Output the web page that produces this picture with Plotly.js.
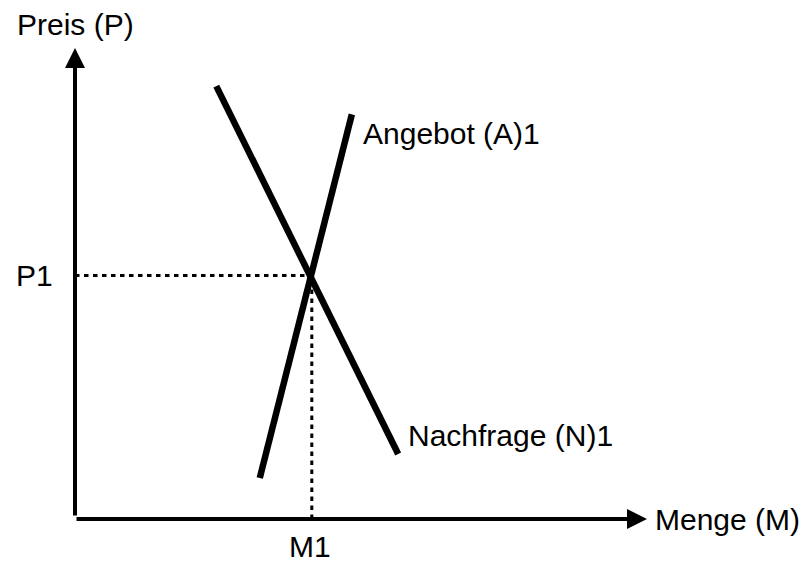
<!DOCTYPE html>
<html>
<head>
<meta charset="utf-8">
<script src="https://cdn.plot.ly/plotly-3.0.1.min.js"></script>
<style>html,body{margin:0;padding:0;background:#fff;}#chart{width:809px;height:562px;}</style>
</head>
<body>
<div id="chart"></div>
<script>
// Nachfrage (N)1: Menge / Preis
const mengeNachfrage = [2.47, 5.65];
const preisNachfrage = [9.19, 1.38];
// Angebot (A)1: Menge / Preis
const mengeAngebot = [3.23, 4.84];
const preisAngebot = [0.87, 8.59];
// Gleichgewicht
const M1 = 4.14;
const P1 = 5.17;
// Achsenenden
const mengeMax = 10;
const preisMax = 10;
// Beschriftungen
const labelX = 'Menge (M)';
const labelY = 'Preis (P)';
const labelAngebot = 'Angebot (A)1';
const labelNachfrage = 'Nachfrage (N)1';
const labelP1 = 'P1';
const labelM1 = 'M1';

const FONT = {family: '"Liberation Sans", Arial, sans-serif', size: 30, color: '#000'};

const traces = [
  {x: [0, M1], y: [P1, P1], mode: 'lines', line: {color: '#000', width: 3, dash: '4.5px,4.5px'}, hoverinfo: 'skip'},
  {x: [M1, M1], y: [0, P1], mode: 'lines', line: {color: '#000', width: 3, dash: '4.5px,4.5px'}, hoverinfo: 'skip'},
  {x: mengeNachfrage, y: preisNachfrage, mode: 'lines', line: {color: '#000', width: 6.5}, hoverinfo: 'skip'},
  {x: mengeAngebot, y: preisAngebot, mode: 'lines', line: {color: '#000', width: 6.5}, hoverinfo: 'skip'}
];

const arrowBase = {xref: 'x', yref: 'y', axref: 'x', ayref: 'y', text: '', showarrow: true,
  arrowhead: 2, arrowsize: 1, arrowwidth: 4, arrowcolor: '#000', standoff: 0, startstandoff: 0};

const annotations = [
  Object.assign({}, arrowBase, {x: mengeMax, y: 0, ax: 0, ay: 0}),
  Object.assign({}, arrowBase, {x: 0, y: preisMax, ax: 0, ay: 0.04}),
  {xref: 'x', yref: 'y', x: mengeMax, y: 0, text: labelX, showarrow: false, xanchor: 'left', yanchor: 'middle', xshift: 6, font: FONT},
  {xref: 'x', yref: 'y', x: 0, y: preisMax, text: labelY, showarrow: false, xanchor: 'center', yanchor: 'middle', yshift: 24, font: FONT},
  {xref: 'x', yref: 'y', x: 0, y: P1, text: labelP1, showarrow: false, xanchor: 'right', yanchor: 'middle', xshift: -20, font: FONT},
  {xref: 'x', yref: 'y', x: M1, y: 0, text: labelM1, showarrow: false, xanchor: 'center', yanchor: 'middle', xshift: -2, yshift: -27, font: FONT},
  {xref: 'x', yref: 'y', x: mengeAngebot[1], y: preisAngebot[1], text: labelAngebot, showarrow: false, xanchor: 'left', yanchor: 'middle', xshift: 9, yshift: -19, font: FONT},
  {xref: 'x', yref: 'y', x: mengeNachfrage[1], y: preisNachfrage[1], text: labelNachfrage, showarrow: false, xanchor: 'left', yanchor: 'middle', xshift: 8, yshift: 19, font: FONT}
];

const hiddenAxis = {showgrid: false, zeroline: false, showline: false, showticklabels: false, ticks: '', fixedrange: true};

const layout = {
  width: 809, height: 562,
  margin: {l: 75, r: 162, t: 48, b: 43, pad: 0},
  paper_bgcolor: '#fff', plot_bgcolor: '#fff',
  showlegend: false,
  xaxis: Object.assign({range: [0, mengeMax]}, hiddenAxis),
  yaxis: Object.assign({range: [0, preisMax]}, hiddenAxis),
  annotations: annotations,
  font: FONT
};

Plotly.newPlot('chart', traces, layout, {staticPlot: true, displayModeBar: false});
</script>
</body>
</html>
